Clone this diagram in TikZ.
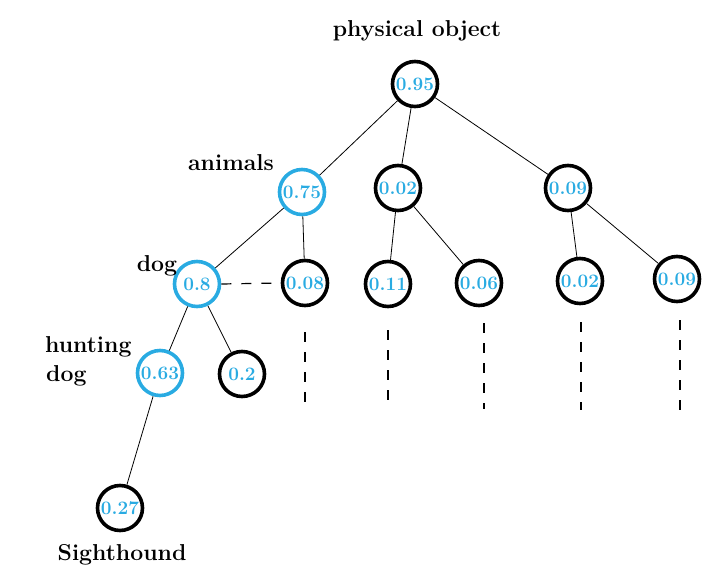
\documentclass[tikz,border=0pt]{standalone}
\usepackage{fontspec}
\definecolor{nblue}{RGB}{41,171,226}
\begin{document}
\begin{tikzpicture}[x=1pt,y=-1pt,
  pnode/.style={circle,draw=black,line width=3.6pt,minimum size=45pt,inner sep=0pt,
    text=nblue,font=\fontsize{19}{19}\selectfont\bfseries},
  bnode/.style={pnode,draw=nblue},
  lbl/.style={font=\fontsize{23}{26}\selectfont\bfseries,inner sep=0pt},
  edge/.style={line width=0.8pt},
  dedge/.style={line width=1.2pt,dash pattern=on 10pt off 10pt}]
\useasboundingbox (0,0) rectangle (717,585);
% nodes
\node[pnode] (root) at (415,84) {0.95};
\node[bnode] (anim) at (302,192) {0.75};
\node[pnode] (m1) at (398,188) {0.02};
\node[pnode] (r1) at (568,188) {0.09};
\node[bnode] (dog) at (197,284) {0.8};
\node[pnode] (a2) at (305,283) {0.08};
\node[pnode] (m11) at (388,284) {0.11};
\node[pnode] (m12) at (479,283) {0.06};
\node[pnode] (r11) at (580,281) {0.02};
\node[pnode] (r12) at (677,279) {0.09};
\node[bnode] (hunt) at (160,373) {0.63};
\node[pnode] (d2) at (242,374) {0.2};
\node[pnode] (sight) at (120,508) {0.27};
% labels
\node[lbl,anchor=base] (lroot) at (417,37) {physical object};
\node[lbl,anchor=base] (lanim) at (231,171) {animals};
\node[lbl,anchor=base] (ldog) at (157,272) {dog};
\node[lbl,anchor=base west] (lhunt) at (45,352) {hunting};
\node[lbl,anchor=base west] (lhunt2) at (46,381) {dog};
\node[lbl,anchor=base] (lsight) at (122,560) {Sighthound};
% edges
\draw[edge] (root) -- (anim);
\draw[edge] (root) -- (m1);
\draw[edge] (root) -- (r1);
\draw[edge] (anim) -- (dog);
\draw[edge] (anim) -- (a2);
\draw[edge] (m1) -- (m11);
\draw[edge] (m1) -- (m12);
\draw[edge] (r1) -- (r11);
\draw[edge] (r1) -- (r12);
\draw[edge] (dog) -- (hunt);
\draw[edge] (dog) -- (d2);
\draw[edge] (hunt) -- (sight);
\draw[dedge] (dog.east) -- (a2.west);
% trailing dashed lines
\coordinate (e1a) at (305,332); \coordinate (e1b) at (305,410);
\coordinate (e2a) at (388,330); \coordinate (e2b) at (388,406);
\coordinate (e3a) at (484,323); \coordinate (e3b) at (484,409);
\coordinate (e4a) at (581,322); \coordinate (e4b) at (581,410);
\coordinate (e5a) at (680,320); \coordinate (e5b) at (680,415);
\foreach \a/\b in {e1a/e1b,e2a/e2b,e3a/e3b,e4a/e4b,e5a/e5b}
  \draw[dedge] (\a) -- (\b);
\end{tikzpicture}
\end{document}
